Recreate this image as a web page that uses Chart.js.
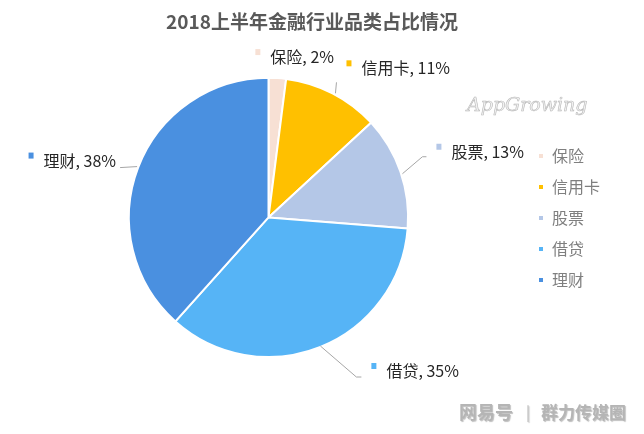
<!DOCTYPE html>
<html>
<head>
<meta charset="utf-8">
<script src="https://cdn.jsdelivr.net/npm/chart.js@4"></script>
<style>
  body { margin: 0; background: #fff; }
  #wrap { width: 644px; height: 434px; }
</style>
</head>
<body>
<div id="wrap"><canvas id="pieChart" width="644" height="434"></canvas></div>
<script>
const categories = ['保险', '信用卡', '股票', '借贷', '理财'];
const shares = [2, 11, 13, 35, 38]; // percent
const colors = ['#f7e0d4', '#ffc000', '#b4c7e7', '#56b4f6', '#4a90e0'];

const FONT = '"Noto Sans CJK SC", "Noto Sans", sans-serif';

// where each data label sits, relative to the arc's outer mid point
const labelLayout = [
  { at: [-7, -21], align: 'left', line: [] },
  { at: [29, -25], align: 'left', line: [[3, 0], [4, -11]] },
  { at: [51, -20], align: 'left', line: [[2, 2], [22, -15], [26, -15]] },
  { at: [66, 24], align: 'left', line: [[0, -1], [36, 30], [41, 30]] },
  { at: [-22, -7], align: 'right', line: [[-1, -1], [-18, 0]] }
];

const pieLabels = {
  id: 'pieLabels',
  afterDatasetsDraw(chart) {
    const ctx = chart.ctx;
    const meta = chart.getDatasetMeta(0);
    ctx.save();
    ctx.font = '16px ' + FONT;
    ctx.textBaseline = 'middle';
    meta.data.forEach((arc, i) => {
      const p = arc.getProps(['x', 'y', 'startAngle', 'endAngle', 'outerRadius'], true);
      const mid = (p.startAngle + p.endAngle) / 2;
      const ex = p.x + Math.cos(mid) * p.outerRadius;
      const ey = p.y + Math.sin(mid) * p.outerRadius;
      const lay = labelLayout[i];

      if (lay.line.length > 1) {
        ctx.strokeStyle = '#a6a6a6';
        ctx.lineWidth = 1;
        ctx.beginPath();
        lay.line.forEach((pt, k) => {
          if (k === 0) ctx.moveTo(ex + pt[0], ey + pt[1]);
          else ctx.lineTo(ex + pt[0], ey + pt[1]);
        });
        ctx.stroke();
      }

      const text = categories[i] + ', ' + shares[i] + '%';
      const w = ctx.measureText(text).width;
      let tx = ex + lay.at[0];
      const ty = ey + lay.at[1];
      if (lay.align === 'right') tx -= w;

      ctx.fillStyle = colors[i];
      ctx.fillRect(tx - 15, ty - 8, 5, 6);
      ctx.fillStyle = '#262626';
      ctx.textAlign = 'left';
      ctx.fillText(text, tx, ty);
    });
    ctx.restore();
  }
};

const watermarks = {
  id: 'watermarks',
  afterDraw(chart) {
    const ctx = chart.ctx;
    ctx.save();
    ctx.textBaseline = 'alphabetic';
    ctx.font = 'italic 19px "DejaVu Serif", serif';
    ctx.fillStyle = '#f2f2f2';
    ctx.strokeStyle = '#b8b8b8';
    ctx.lineWidth = 0.6;
    ctx.fillText('AppGrowing', 467, 111);
    ctx.strokeText('AppGrowing', 467, 111);

    ctx.shadowColor = 'rgba(0,0,0,0.25)';
    ctx.shadowOffsetX = 1;
    ctx.shadowOffsetY = 1;
    ctx.shadowBlur = 1;
    ctx.fillStyle = '#b5b5b5';
    ctx.font = 'bold 18px ' + FONT;
    ctx.fillText('网易号', 459, 419);
    ctx.font = '15px ' + FONT;
    ctx.fillText('|', 526, 418);
    ctx.font = 'bold 17px ' + FONT;
    ctx.fillText('群力传媒圈', 541, 419);
    ctx.restore();
  }
};

new Chart(document.getElementById('pieChart'), {
  type: 'pie',
  data: {
    labels: categories,
    datasets: [{
      data: shares,
      backgroundColor: colors,
      borderColor: '#ffffff',
      borderWidth: 2
    }]
  },
  options: {
    responsive: false,
    animation: false,
    layout: { padding: { left: 14, right: 34, top: 0, bottom: 76 } },
    plugins: {
      title: {
        display: true,
        text: '2018上半年金融行业品类占比情况',
        color: '#595959',
        font: { size: 19, weight: 'bold', family: FONT },
        padding: { top: 10, bottom: 44 }
      },
      legend: {
        position: 'right',
        // empty legend title only pushes the items down to the pie's middle
        title: { display: true, text: ' ', font: { size: 10 }, padding: { top: 66, bottom: 0 } },
        labels: {
          boxWidth: 6,
          boxHeight: 6,
          padding: 15,
          color: '#7f7f7f',
          font: { size: 16, family: FONT }
        }
      },
      tooltip: { enabled: false }
    }
  },
  plugins: [pieLabels, watermarks]
});
</script>
</body>
</html>
